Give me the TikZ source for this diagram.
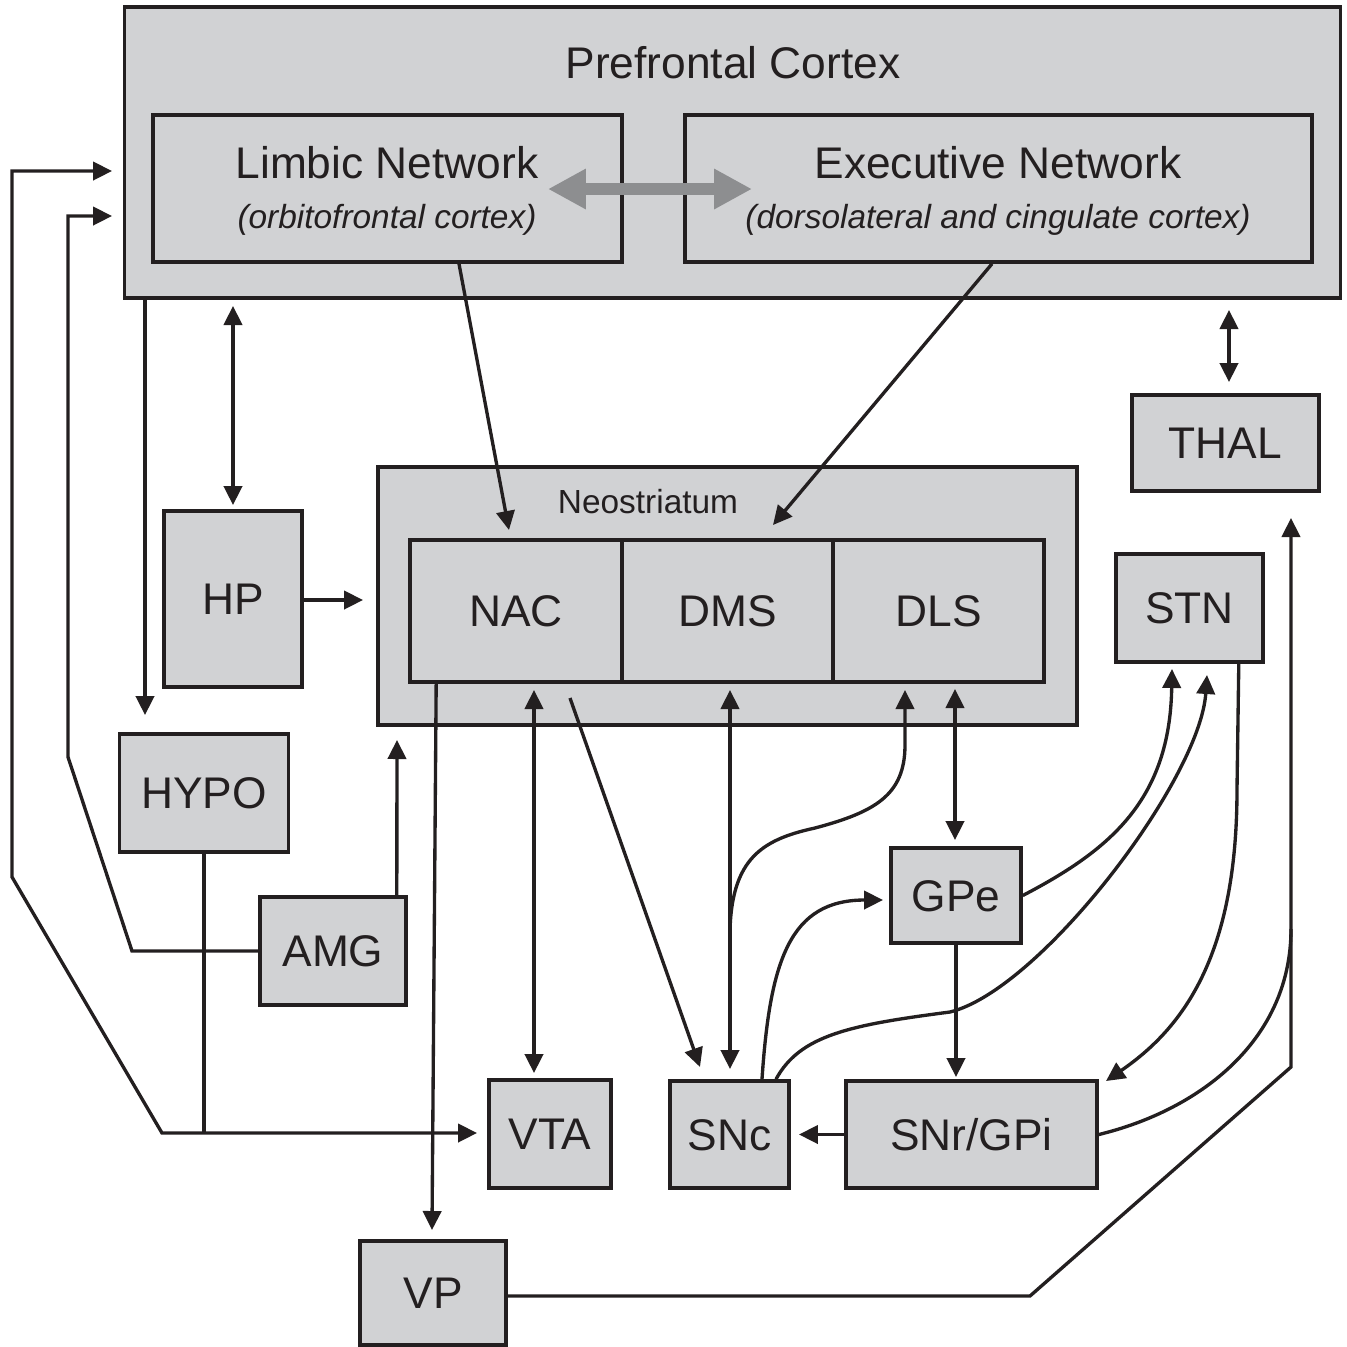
\documentclass[tikz,border=0pt]{standalone}
\usepackage{fontspec}
\setmainfont{Liberation Sans}
\usetikzlibrary{arrows.meta,calc}
\definecolor{boxgray}{HTML}{D1D2D4}
\definecolor{ink}{HTML}{231F20}
\definecolor{linkgray}{HTML}{8D8E90}
\begin{document}
\begin{tikzpicture}[x=0.01cm,y=-0.01cm,
  box/.style={draw=ink,fill=boxgray,line width=1pt,inner sep=0pt,text=ink,
    font=\fontsize{12.6}{15}\selectfont,text height=9pt,text depth=0pt},
  big/.style={inner sep=0pt,text=ink,font=\fontsize{12.6}{15}\selectfont,text height=9pt,text depth=0pt},
  small/.style={inner sep=0pt,text=ink,font=\fontsize{9.5}{11}\selectfont,text height=6.8pt,text depth=0pt},
  ln/.style={draw=ink,line width=0.95pt},
  arr/.style={ln,-{Triangle[length=5.4pt,width=5.2pt]}},
  dbl/.style={ln,{Triangle[length=5.4pt,width=5.2pt]}-{Triangle[length=5.4pt,width=5.2pt]}},
  grayarr/.style={draw=linkgray,line width=3.4pt,
    {Triangle[length=10.8pt,width=10.8pt]}-{Triangle[length=10.8pt,width=10.8pt]}}]
\useasboundingbox (0,0) rectangle (1347,1347);

% ---- cortex ----
\node[box,minimum width=12.15cm,minimum height=2.91cm] (pfc) at (732.5,152.5) {};
\node[big] (pfct) at (733,63) {Prefrontal Cortex};
\node[box,minimum width=4.69cm,minimum height=1.47cm] (limbic) at (387.5,188.5) {};
\node[big] (limbict) at (387,163) {Limbic Network};
\node[small] (limbics) at (387,217) {\itshape (orbitofrontal cortex)};
\node[box,minimum width=6.27cm,minimum height=1.47cm] (exec) at (998.5,188.5) {};
\node[big] (exect) at (998,163) {Executive Network};
\node[small] (execs) at (998,217) {\itshape (dorsolateral and cingulate cortex)};
\draw[grayarr] (548,189) coordinate (gA) -- (752,189) coordinate (gB);

% ---- striatum ----
\node[box,minimum width=6.99cm,minimum height=2.58cm] (neo) at (727.5,596) {};
\node[small] (neot) at (648,502) {Neostriatum};
\node[box,minimum width=2.12cm,minimum height=1.42cm] (nac) at (516,611) {NAC};
\node[box,minimum width=2.11cm,minimum height=1.42cm] (dms) at (727.5,611) {DMS};
\node[box,minimum width=2.11cm,minimum height=1.42cm] (dls) at (938.5,611) {DLS};

% ---- other nuclei ----
\node[box,minimum width=1.38cm,minimum height=1.76cm] (hp) at (233,599) {HP};
\node[box,minimum width=1.69cm,minimum height=1.18cm] (hypo) at (204,793) {HYPO};
\node[box,minimum width=1.46cm,minimum height=1.08cm] (amg) at (333,951) {AMG};
\node[box,minimum width=1.87cm,minimum height=0.96cm] (thal) at (1225.5,443) {THAL};
\node[box,minimum width=1.47cm,minimum height=1.08cm] (stn) at (1189.5,608) {STN};
\node[box,minimum width=1.30cm,minimum height=0.95cm] (gpe) at (956,895.5) {GPe};
\node[box,minimum width=1.22cm,minimum height=1.08cm] (vta) at (550,1134) {VTA};
\node[box,minimum width=1.19cm,minimum height=1.07cm] (snc) at (729.5,1134.5) {SNc};
\node[box,minimum width=2.51cm,minimum height=1.07cm] (snr) at (971.5,1134.5) {SNr/GPi};
\node[box,minimum width=1.46cm,minimum height=1.04cm] (vp) at (433,1293) {VP};

% ---- arrow end points ----
\coordinate (pfcA) at (112,171);
\coordinate (pfcB) at (112,216);
\coordinate (vtaL) at (477,1133);
\coordinate (hypoIn) at (145,715);
\coordinate (pfcHP) at (233,306);
\coordinate (hpIn) at (233,505);
\coordinate (neoHP) at (363,600);
\coordinate (neoAMG) at (397,740);
\coordinate (nacIn) at (509,530);
\coordinate (dmsIn) at (773,525);
\coordinate (vpIn) at (432,1230);
\coordinate (nacB) at (534,690);
\coordinate (vtaT) at (534,1073);
\coordinate (nacOut) at (570,698);
\coordinate (sncA) at (700,1067);
\coordinate (dmsB) at (730,690);
\coordinate (sncB) at (730,1069);
\coordinate (dmsFork) at (730,945);
\coordinate (dlsA) at (905,690);
\coordinate (dlsB) at (955,689);
\coordinate (gpeT) at (955,840);
\coordinate (snrT) at (956,1077);
\coordinate (gpeL) at (883,900);
\coordinate (stnA) at (1172,669);
\coordinate (stnB) at (1207,675);
\coordinate (snrR) at (1106,1081);
\coordinate (thalIn) at (1291,518);
\coordinate (thalJoin) at (1291,929);
\coordinate (sncR) at (799,1134.5);
\coordinate (pfcTH) at (1229,310);
\coordinate (thalT) at (1229,382);

% ---- left feedback pathways ----
\draw[dbl] (pfcA) -- (12,171) -- (12,877) -- (162,1133) -- (vtaL);
\draw[ln] (hypo.south) -- (hypo.south |- vtaL);
\draw[arr] (amg.west) -- (132,951) -- (68,757) -- (68,216) -- (pfcB);
\draw[arr] (pfc.south -| hypoIn) -- (hypoIn);
\draw[dbl] (pfcHP) -- (hpIn);
\draw[arr] (hp.east |- neoHP) -- (neoHP);
\draw[arr] ($(amg.north east)+(-11,0)$) -- (neoAMG);

% ---- cortex to striatum ----
\draw[arr] ($(limbic.south)+(71.5,0)$) -- (nacIn);
\draw[arr] ($(exec.south)+(-6.5,0)$) -- (dmsIn);

% ---- striatum and midbrain ----
\draw[arr] ($(nac.south west)+(28,0)$) -- (vpIn);
\draw[dbl] (nacB) -- (vtaT);
\draw[arr] (nacOut) -- (sncA);
\draw[dbl] (dmsB) -- (sncB);
\draw[arr] (dmsFork) .. controls (728,860) and (760,840) .. (815,828)
  .. controls (875,812) and (905,795) .. (905,745) -- (dlsA);
\draw[dbl] (dlsB) -- (gpeT);
\draw[arr] (gpe.south) -- (snrT);
\draw[arr] ($(snc.north)+(32.5,0)$) .. controls (770,960) and (790,900) .. (gpeL);
\draw[arr] ($(snc.north)+(46.5,0)$) .. controls (800,1035) and (850,1025) .. (950,1012)
  .. controls (1040,990) and (1200,780) .. (stnB);
\draw[arr] (gpe.east) .. controls (1110,850) and (1170,800) .. (stnA);
\draw[arr] ($(stn.south east)+(-26,0)$) -- (1237,790) .. controls (1237,960) and (1180,1030) .. (snrR);
\draw[arr] (snr.west) -- (sncR);

% ---- thalamic pathways ----
\draw[ln] (snr.east) .. controls (1200,1110) and (1291,1040) .. (thalJoin);
\draw[arr] ($(vp.east)+(0,3)$) -- (1030,1296) -- (1291,1067) -- (thalIn);
\draw[dbl] (pfcTH) -- (thalT);
\end{tikzpicture}
\end{document}
